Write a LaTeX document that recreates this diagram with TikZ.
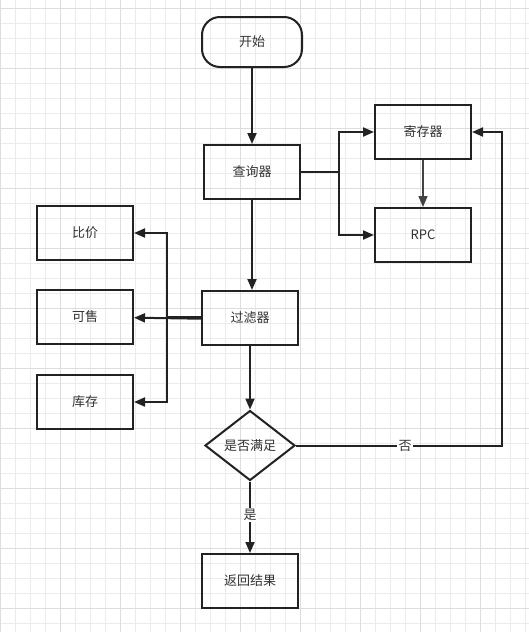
\documentclass[tikz,border=0pt]{standalone}
\usepackage{fontspec}
\newfontfamily\cjk{Noto Sans CJK SC}
\usetikzlibrary{shapes.geometric,arrows.meta}
\definecolor{gridminor}{HTML}{EBEBEB}
\definecolor{gridmajor}{HTML}{DDDDDD}
\definecolor{ink}{HTML}{222222}
\definecolor{txt}{HTML}{333333}
\tikzset{
  box/.style={draw=ink,line width=2pt,minimum width=96pt,minimum height=54pt,inner sep=0pt,font=\cjk\fontsize{13}{15}\selectfont,text=txt},
  startbox/.style={box,rounded corners=18pt,minimum width=100pt,minimum height=50pt},
  decision/.style={draw=ink,line width=2pt,shape=diamond,minimum width=90pt,minimum height=70pt,inner sep=0pt,font=\cjk\fontsize{13}{15}\selectfont,text=txt},
  arr/.style={draw=ink,line width=2pt,-{Triangle[length=11pt,width=9pt]}},
  thinarr/.style={draw=ink!85,line width=1.4pt,-{Triangle[length=11pt,width=9pt]}},
  lbl/.style={fill=white,inner sep=1.5pt,font=\cjk\fontsize{13}{15}\selectfont,text=txt},
}
\begin{document}
\begin{tikzpicture}[x=1pt,y=-1pt]
\useasboundingbox (0,0) rectangle (529,632);
\fill[white] (0,0) rectangle (529,632);
% grid
\foreach \i in {0,15,...,525} {\draw[gridminor,line width=1pt] (\i,0) -- (\i,632);}
\foreach \j in {8,23,...,630} {\draw[gridminor,line width=1pt] (0,\j) -- (529,\j);}
\foreach \i in {0,60,...,525} {\draw[gridmajor,line width=1pt] (\i,0) -- (\i,632);}
\foreach \j in {8,68,...,630} {\draw[gridmajor,line width=1pt] (0,\j) -- (529,\j);}
% nodes
\node[startbox] (start) at (252,42) {开始};
\node[box] (query) at (252,172) {查询器};
\node[box] (reg) at (423,132) {寄存器};
\node[box] (rpc) at (423,235) {RPC};
\node[box] (price) at (85,233) {比价};
\node[box] (sale) at (85,317) {可售};
\node[box] (stock) at (85,402) {库存};
\node[box] (filter) at (250,318) {过滤器};
\node[decision] (cond) at (250,445.5) {是否满足};
\node[box] (result) at (250,581) {返回结果};
% connectors
\draw[arr] (start.south) -- (query.north);
\draw[arr] (query.east) -- ++(38,0) |- (reg.west);
\draw[arr] (query.east) -- ++(38,0) |- (rpc.west);
\draw[thinarr] (reg.south) -- (rpc.north);
\draw[arr] (query.south) -- (query.south |- filter.north);
\draw[arr] (filter.west) -- ++(-34,0) |- (price.east);
\draw[arr] ([yshift=-0.7pt]filter.west) -- ([yshift=-0.7pt]sale.east);
\draw[arr] ([yshift=0.7pt]filter.west) -- ++(-34,0) |- (stock.east);
\draw[arr] (filter.south) -- (cond.north);
\draw[arr] (cond.south) -- node[pos=0.47,lbl]{是} (result.north);
\draw[arr] (cond.east) -- node[pos=0.53,lbl]{否} ++(206,0) |- (reg.east);
\end{tikzpicture}
\end{document}
